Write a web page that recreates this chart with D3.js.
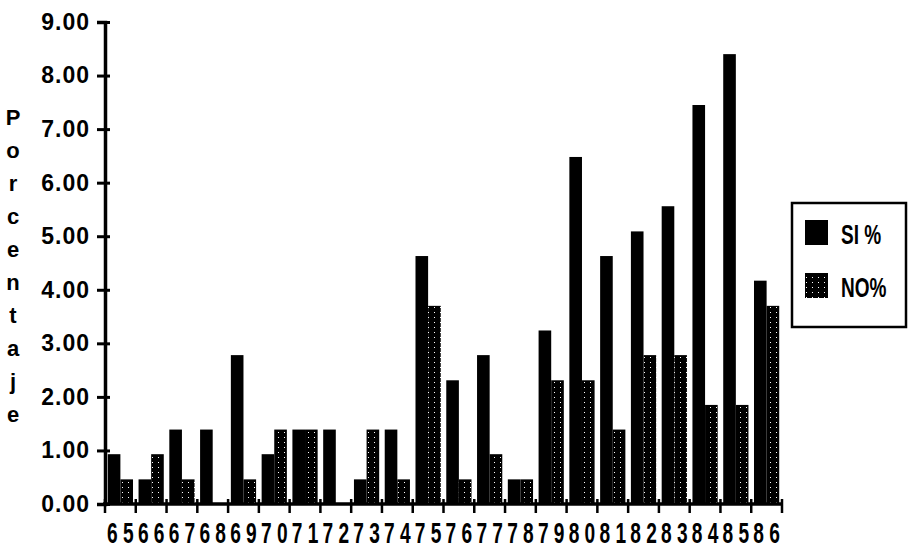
<!DOCTYPE html>
<html lang="es">
<head>
<meta charset="UTF-8">
<title>Porcentaje SI / NO</title>
<script src="https://d3js.org/d3.v7.min.js"></script>
<style>
    body { margin: 0; padding: 0; background: #fff; }
    svg { display: block; }
    text { font-family: 'Liberation Sans', Arial, sans-serif; font-weight: bold; fill: #000; }
</style>
</head>
<body>
<script>
    // years on the x axis (1965-1986)
    const years = ["65","66","67","68","69","70","71","72","73","74","75",
                   "76","77","78","79","80","81","82","83","84","85","86"];
    const siValues = [0.93, 0.46, 1.39, 1.39, 2.78, 0.93, 1.39, 1.39, 0.46, 1.39, 4.63,
                      2.31, 2.78, 0.46, 3.24, 6.48, 4.63, 5.09, 5.56, 7.45, 8.40, 4.17];
    const noValues = [0.46, 0.93, 0.46, 0.00, 0.46, 1.39, 1.39, 0.00, 1.39, 0.46, 3.70,
                      0.46, 0.93, 0.46, 2.31, 2.31, 1.39, 2.78, 2.78, 1.85, 1.85, 3.70];
    const yTicks = [0, 1, 2, 3, 4, 5, 6, 7, 8, 9];
    const series = ["SI %", "NO%"];
    const yTitle = "Porcentaje";

    const width = 908, height = 555;

    const svg = d3.select("body").append("svg")
        .attr("width", width)
        .attr("height", height);

    // stipple for the NO bars: black with sparse white dots
    const pat = svg.append("defs").append("pattern")
        .attr("id", "dots")
        .attr("patternUnits", "userSpaceOnUse")
        .attr("width", 6)
        .attr("height", 5);
    pat.append("rect").attr("width", 6).attr("height", 5).attr("fill", "#000");
    pat.append("rect").attr("x", 2).attr("y", 2).attr("width", 1).attr("height", 1).attr("fill", "#fff");

    const x = d3.scaleBand().domain(years).range([105, 782]).padding(0);
    const y = d3.scaleLinear().domain([0, 9]).range([504, 22]);

    const data = years.map((yr, i) => ({ year: yr, si: siValues[i], no: noValues[i] }));

    const bw = x.bandwidth();
    const barW = bw * 0.41;
    const off = bw * 0.09;

    // bars
    svg.selectAll(".si")
        .data(data)
        .enter().append("rect")
        .attr("class", "si")
        .attr("x", d => x(d.year) + off)
        .attr("width", barW)
        .attr("y", d => y(d.si))
        .attr("height", d => y(0) - y(d.si))
        .attr("fill", "#000");

    svg.selectAll(".no")
        .data(data)
        .enter().append("rect")
        .attr("class", "no")
        .attr("x", d => x(d.year) + off + barW)
        .attr("width", barW)
        .attr("y", d => y(d.no))
        .attr("height", d => y(0) - y(d.no))
        .attr("fill", "url(#dots)");

    // y axis
    const yAxis = svg.append("g")
        .attr("transform", "translate(105,0)")
        .call(d3.axisLeft(y).tickValues(yTicks).tickFormat(d3.format(".2f")).tickSize(8).tickPadding(7));
    yAxis.select(".domain").attr("stroke-width", 3.5);
    yAxis.selectAll(".tick line").attr("x1", 5).attr("stroke-width", 3);
    yAxis.selectAll(".tick text")
        .style("font-size", "23px")
        .style("font-family", "'Liberation Sans', Arial, sans-serif")
        .style("font-weight", "bold")
        .attr("letter-spacing", "1px");

    // x axis: baseline and boundary ticks
    svg.append("line")
        .attr("x1", 103).attr("x2", x.range()[1])
        .attr("y1", y(0)).attr("y2", y(0))
        .attr("stroke", "#000").attr("stroke-width", 3.5);

    const bounds = years.map(d => x(d)).concat([x.range()[1]]);
    svg.selectAll(".xtick")
        .data(bounds)
        .enter().append("line")
        .attr("x1", d => d).attr("x2", d => d)
        .attr("y1", y(0) - 5).attr("y2", y(0) + 9)
        .attr("stroke", "#000").attr("stroke-width", 2.5);

    const xAxis = svg.append("g")
        .attr("transform", `translate(0,${y(0)})`)
        .call(d3.axisBottom(x).tickSize(0).tickPadding(0));
    xAxis.select(".domain").remove();
    xAxis.selectAll(".tick text")
        .attr("y", 39)
        .attr("dy", 0)
        .attr("x", 4)
        .attr("transform", "scale(0.66,1)")
        .attr("letter-spacing", "8px")
        .style("font-size", "29px")
        .style("font-family", "'Liberation Sans', Arial, sans-serif")
        .style("font-weight", "bold");

    // vertical y title, one letter per line
    svg.append("g").selectAll("text")
        .data(yTitle.split(""))
        .enter().append("text")
        .attr("x", 13)
        .attr("y", (d, i) => 125 + i * 33)
        .attr("text-anchor", "middle")
        .style("font-size", "22px")
        .text(d => d);

    // legend
    const lg = svg.append("g");
    lg.append("rect")
        .attr("x", 792).attr("y", 203)
        .attr("width", 114).attr("height", 124)
        .attr("fill", "#fff").attr("stroke", "#000").attr("stroke-width", 2.5);

    const legendFills = ["#000", "url(#dots)"];
    series.forEach((s, i) => {
        const ly = 220 + i * 53;
        lg.append("rect")
            .attr("x", 805).attr("y", ly)
            .attr("width", 23).attr("height", 25)
            .attr("fill", legendFills[i]);
        lg.append("text")
            .attr("transform", `translate(841,${ly + 24}) scale(0.68,1)`)
            .style("font-size", "28px")
            .text(s);
    });
</script>
</body>
</html>
